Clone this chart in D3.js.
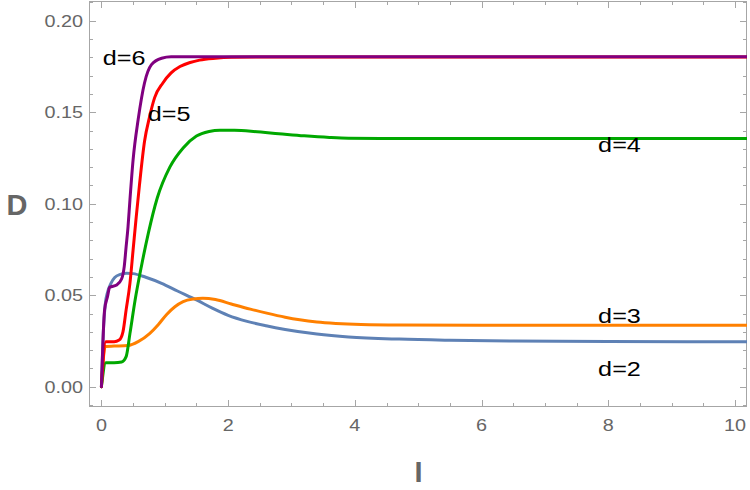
<!DOCTYPE html>
<html>
<head>
<meta charset="utf-8">
<script src="https://cdn.jsdelivr.net/npm/d3@7"></script>
<style>
  body { margin: 0; background: #fff; }
  svg { display: block; font-family: "Liberation Sans", Arial, sans-serif; }
</style>
</head>
<body>
<div id="chart"></div>
<script>
// -------------------------------------------------------------------------
// Data

const d2 = [[0, 0], [0.03, 0.03], [0.06, 0.045], [0.1, 0.052], [0.15, 0.0565], [0.21, 0.0597],
  [0.3, 0.0614], [0.4, 0.062], [0.5, 0.0618], [0.7, 0.0598], [0.95, 0.0565], [1.2, 0.0523],
  [1.5, 0.0474], [1.75, 0.0429], [2.0, 0.039], [2.3, 0.0357], [2.6, 0.0333], [2.9, 0.0313],
  [3.4, 0.0288], [3.9, 0.0272], [4.7, 0.026], [5.5, 0.0254], [6.5, 0.025], [8, 0.0247],
  [9.5, 0.0246], [10.2, 0.0246]];

const d3s = [[0, 0], [0.06, 0.022], [0.2, 0.0222], [0.42, 0.0225], [0.58, 0.0246], [0.76, 0.029],
  [0.9, 0.034], [1.03, 0.0395], [1.16, 0.0437], [1.29, 0.0465], [1.45, 0.0479], [1.6, 0.0483],
  [1.8, 0.0476], [2.05, 0.0452], [2.35, 0.0424], [2.61, 0.0402], [2.9, 0.038], [3.13, 0.0366],
  [3.4, 0.0354], [3.7, 0.0346], [4.1, 0.034], [4.7, 0.0337], [6, 0.0336], [8, 0.0336], [10.2, 0.0336]];

const d4 = [[0, 0], [0.07, 0.0131], [0.2, 0.0131], [0.32, 0.0135], [0.39, 0.0164], [0.45, 0.029],
  [0.53, 0.047], [0.63, 0.0656], [0.74, 0.0838], [0.88, 0.103], [1.08, 0.12], [1.29, 0.1305],
  [1.5, 0.137], [1.7, 0.1395], [1.87, 0.1402], [2.1, 0.1401], [2.4, 0.1395], [2.8, 0.1383],
  [3.2, 0.1371], [3.6, 0.1362], [3.9, 0.1358], [4.4, 0.1357], [7, 0.1357], [10.2, 0.1357]];

const d5 = [[0, 0], [0.07, 0.0246], [0.2, 0.0246], [0.28, 0.0255], [0.34, 0.03], [0.39, 0.042],
  [0.45, 0.0565], [0.5, 0.0747], [0.55, 0.093], [0.6, 0.11], [0.68, 0.134], [0.76, 0.1475],
  [0.84, 0.158], [0.97, 0.166], [1.1, 0.1715], [1.24, 0.175], [1.4, 0.1772], [1.55, 0.1785],
  [1.8, 0.1795], [2.05, 0.18], [2.5, 0.1802], [10.2, 0.1802]];

const d6 = [[0, 0], [0.05, 0.042], [0.095, 0.049], [0.13, 0.0543], [0.24, 0.0556], [0.32, 0.059],
  [0.36, 0.0656], [0.39, 0.0765], [0.42, 0.0874], [0.45, 0.102], [0.5, 0.124], [0.58, 0.146],
  [0.68, 0.166], [0.79, 0.176], [0.95, 0.1795], [1.1, 0.1803], [10.2, 0.1803]];

// drawing order = stacking order (purple on top)
const seriesList = [d2, d3s, d4, d5, d6];
const seriesColors = ['#5e81b5', '#ff8000', '#00a800', '#ff0000', '#800080'];

const xTicks = [0, 2, 4, 6, 8, 10];
const yTicks = [0, 0.05, 0.1, 0.15, 0.2];

// curve labels, anchored at text start / baseline, in data units
const labelText = ['d=6', 'd=5', 'd=4', 'd=3', 'd=2'];
const labelX = [0.02, 0.73, 7.84, 7.84, 7.84];
const labelY = [0.1758, 0.1452, 0.1283, 0.0348, 0.0058];

// -------------------------------------------------------------------------
// Layout

const width = 750;
const height = 490;
const plot = { left: 89, right: 747, top: 1, bottom: 407 };
const frameColor = '#a6a6a6';
const labelColor = '#666';
const stretch = 1.2; // the source image is a bit wider than tall

const svg = d3.select('#chart').append('svg')
  .attr('width', width)
  .attr('height', height);

const x = d3.scaleLinear().domain([-0.196, 10.19]).range([plot.left, plot.right]);
const y = d3.scaleLinear().domain([-0.0111, 0.2108]).range([plot.bottom, plot.top]);

svg.append('clipPath').attr('id', 'clip')
  .append('rect')
  .attr('x', plot.left).attr('y', plot.top)
  .attr('width', plot.right - plot.left).attr('height', plot.bottom - plot.top);

// -------------------------------------------------------------------------
// Frame and ticks

function stretchedText(sel, px, py, anchor) {
  return sel.append('text')
    .attr('transform', `translate(${px},${py}) scale(${stretch},1)`)
    .attr('text-anchor', anchor);
}

const xMinor = d3.range(0, 10.01, 0.5);
const yMinor = d3.range(-0.01, 0.2101, 0.01);

const tickG = svg.append('g')
  .attr('stroke', frameColor)
  .attr('stroke-width', 1)
  .attr('shape-rendering', 'crispEdges');

xMinor.forEach(function(v) {
  const len = xTicks.indexOf(Math.round(v * 2) / 2) >= 0 ? 7 : 4;
  const px = Math.round(x(v)) + 0.5;
  tickG.append('line').attr('x1', px).attr('x2', px).attr('y1', plot.bottom).attr('y2', plot.bottom - len);
  tickG.append('line').attr('x1', px).attr('x2', px).attr('y1', plot.top).attr('y2', plot.top + len);
});

yMinor.forEach(function(v) {
  const isMajor = yTicks.some(function(t) { return Math.abs(t - v) < 1e-6; });
  const len = isMajor ? 7 : 4;
  const py = Math.round(y(v)) + 0.5;
  tickG.append('line').attr('y1', py).attr('y2', py).attr('x1', plot.left).attr('x2', plot.left + len);
  tickG.append('line').attr('y1', py).attr('y2', py).attr('x1', plot.right).attr('x2', plot.right - len);
});

svg.append('rect')
  .attr('x', plot.left + 0.5).attr('y', plot.top + 0.5)
  .attr('width', plot.right - plot.left - 1).attr('height', plot.bottom - plot.top - 1)
  .attr('fill', 'none')
  .attr('stroke', frameColor)
  .attr('shape-rendering', 'crispEdges');

const tickLabels = svg.append('g')
  .attr('fill', labelColor)
  .attr('font-size', 16.5);

xTicks.forEach(function(v) {
  stretchedText(tickLabels, x(v), 431, 'middle').text(d3.format('d')(v));
});

yTicks.forEach(function(v) {
  stretchedText(tickLabels, 83, y(v) + 6, 'end').text(d3.format('.2f')(v));
});

// axis titles
svg.append('text')
  .attr('x', 17).attr('y', 215)
  .attr('text-anchor', 'middle')
  .attr('font-size', 29).attr('font-weight', 'bold')
  .attr('fill', labelColor)
  .text('D');

svg.append('text')
  .attr('x', 418.5).attr('y', 482)
  .attr('text-anchor', 'middle')
  .attr('font-size', 29).attr('font-weight', 'bold')
  .attr('fill', labelColor)
  .text('I');

// -------------------------------------------------------------------------
// Curves

const line = d3.line()
  .x(function(d) { return x(d[0]); })
  .y(function(d) { return y(d[1]); })
  .curve(d3.curveMonotoneX);

svg.append('g')
  .attr('clip-path', 'url(#clip)')
  .selectAll('path')
  .data(seriesList)
  .join('path')
  .attr('d', line)
  .attr('fill', 'none')
  .attr('stroke', function(d, i) { return seriesColors[i]; })
  .attr('stroke-width', 3)
  .attr('stroke-linejoin', 'round')
  .attr('stroke-linecap', 'round');

// -------------------------------------------------------------------------
// Labels

const labelG = svg.append('g')
  .attr('fill', '#000')
  .attr('font-size', 21);

labelText.forEach(function(t, i) {
  stretchedText(labelG, x(labelX[i]), y(labelY[i]), 'start').text(t);
});
</script>
</body>
</html>
